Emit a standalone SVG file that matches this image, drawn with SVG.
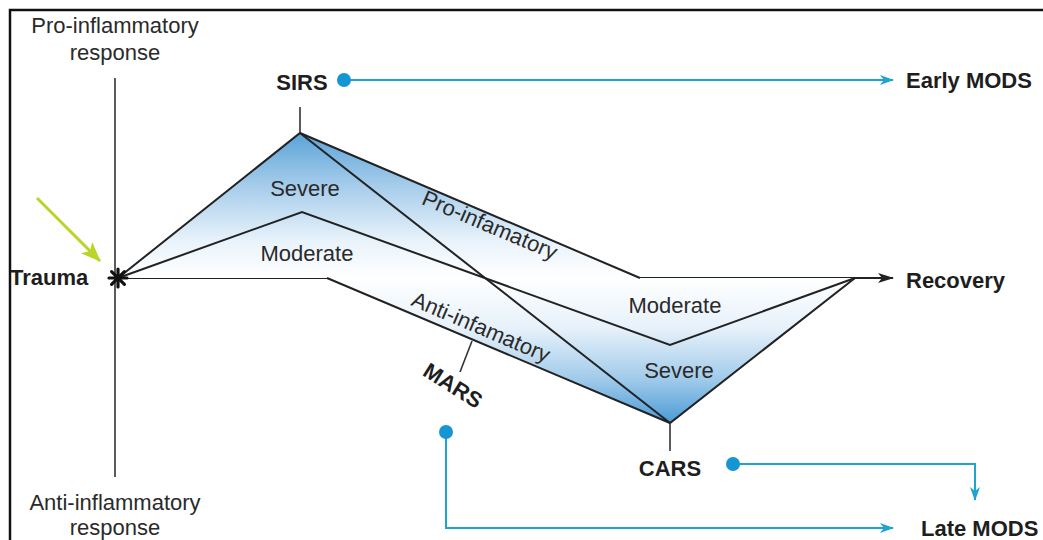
<svg xmlns="http://www.w3.org/2000/svg" width="1043" height="540" viewBox="0 0 1043 540">
<defs>
<linearGradient id="gPro" gradientUnits="userSpaceOnUse" x1="0" y1="133" x2="0" y2="278">
<stop offset="0" stop-color="#5aa3d8"/>
<stop offset="0.35" stop-color="#a3cbea"/>
<stop offset="0.75" stop-color="#e9f3fb"/>
<stop offset="1" stop-color="#ffffff"/>
</linearGradient>
<linearGradient id="gAnti" gradientUnits="userSpaceOnUse" x1="0" y1="278" x2="0" y2="423">
<stop offset="0" stop-color="#ffffff"/>
<stop offset="0.35" stop-color="#e6f1fa"/>
<stop offset="0.7" stop-color="#a0caea"/>
<stop offset="1" stop-color="#4a9bd6"/>
</linearGradient>
<marker id="mBlack" viewBox="0 0 16 10" refX="15" refY="5" markerWidth="16" markerHeight="10" markerUnits="userSpaceOnUse" orient="auto">
<path d="M0,0 L16,5 L0,10 L4,5 z" fill="#222"/>
</marker>
<marker id="mBlue" viewBox="0 0 14 10" refX="13" refY="5" markerWidth="14" markerHeight="10" markerUnits="userSpaceOnUse" orient="auto">
<path d="M0,0 L14,5 L0,10 L4,5 z" fill="#1fa3cf"/>
</marker>
<marker id="mGreen" viewBox="0 0 20 16" refX="19" refY="8" markerWidth="20" markerHeight="16" markerUnits="userSpaceOnUse" orient="auto">
<path d="M0,0 L20,8 L0,16 L5,8 z" fill="#bcd42a"/>
</marker>
</defs>
<style>
.t{font-family:"Liberation Sans",Arial,sans-serif;font-size:22px;fill:#2a2a2a}
.b{font-weight:bold;fill:#1e1e1e;font-size:22px}
.ln{stroke:#222;stroke-width:2;fill:none;stroke-linejoin:miter}
.thin{stroke:#333;stroke-width:1.6;fill:none}
.bl{stroke:#1fa3cf;stroke-width:2;fill:none}
.dot{fill:#1596d3}
</style>
<rect width="1043" height="540" fill="#fff"/>
<path d="M10,540 L10,10 L1043,10" stroke="#111" stroke-width="2.5" fill="none"/>

<g id="axes">
<line class="thin" x1="115" y1="78" x2="115" y2="477"/>
<line class="ln" x1="118" y1="278" x2="893" y2="278" marker-end="url(#mBlack)"/>
</g>

<g id="curves">
<polygon points="118,278 300,133 640,278" fill="url(#gPro)"/>
<polygon points="327,278 670,423 855,278" fill="url(#gAnti)"/>
<path class="ln" d="M118,278 L300,133 L640,278"/>
<path class="ln" d="M300,133 L670,423"/>
<path class="ln" d="M118,278 L302,212 L670,345 L855,278"/>
<path class="ln" d="M327,278 L670,423 L855,278"/>
<line class="thin" x1="300" y1="107" x2="300" y2="133"/>
<line class="thin" x1="670" y1="423" x2="670" y2="451"/>
<line class="thin" x1="472" y1="341" x2="460" y2="372"/>
</g>

<g id="trauma">
<g stroke="#111" stroke-width="3.2" stroke-linecap="round">
<line x1="109" y1="278" x2="127" y2="278"/>
<line x1="118" y1="269" x2="118" y2="287"/>
<line x1="111.6" y1="271.6" x2="124.4" y2="284.4"/>
<line x1="111.6" y1="284.4" x2="124.4" y2="271.6"/>
</g>
<text class="t b" x="10" y="285">Trauma</text>
<line x1="37" y1="198" x2="100" y2="261" stroke="#bcd42a" stroke-width="3" marker-end="url(#mGreen)"/>
</g>

<g id="labels">
<text class="t" x="115" y="33" text-anchor="middle">Pro-inflammatory</text>
<text class="t" x="115" y="60" text-anchor="middle">response</text>
<text class="t" x="115" y="510" text-anchor="middle">Anti-inflammatory</text>
<text class="t" x="115" y="535" text-anchor="middle">response</text>
<text class="t" x="305" y="196" text-anchor="middle">Severe</text>
<text class="t" x="307" y="261" text-anchor="middle">Moderate</text>
<text class="t" x="675" y="313" text-anchor="middle">Moderate</text>
<text class="t" x="679" y="378" text-anchor="middle">Severe</text>
<text class="t" text-anchor="middle" transform="translate(487,232) rotate(23)">Pro-infamatory</text>
<text class="t" text-anchor="middle" transform="translate(478,334) rotate(23)">Anti-infamatory</text>
</g>

<g id="sirs">
<text class="t b" x="302" y="90" text-anchor="middle">SIRS</text>
</g>
<g id="mars">
<text class="t b" text-anchor="middle" transform="translate(449,392) rotate(32)">MARS</text>
</g>
<g id="cars">
<text class="t b" x="670" y="476" text-anchor="middle">CARS</text>
</g>
<g id="recovery">
<text class="t b" x="906" y="288">Recovery</text>
</g>
<g id="early-mods">
<text class="t b" x="906" y="88">Early MODS</text>
</g>
<g id="late-mods">
<text class="t b" x="921" y="536">Late MODS</text>
</g>

<g id="connectors">
<line class="bl" x1="344" y1="80" x2="893" y2="80" marker-end="url(#mBlue)"/>
<circle class="dot" cx="344" cy="80" r="7"/>
<path class="bl" d="M446,432 L446,528 L893,528" marker-end="url(#mBlue)"/>
<circle class="dot" cx="446" cy="432" r="7"/>
<path class="bl" d="M733,464 L975,464 L975,500" marker-end="url(#mBlue)"/>
<circle class="dot" cx="733" cy="464" r="7"/>
</g>
</svg>
